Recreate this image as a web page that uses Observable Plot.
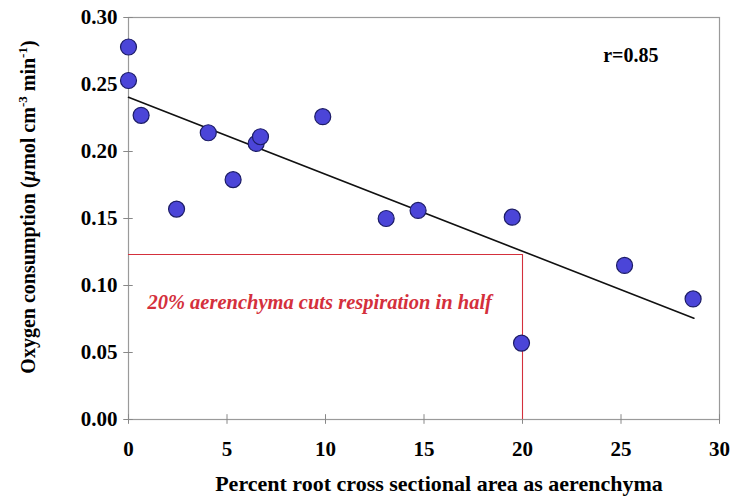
<!DOCTYPE html>
<html>
<head>
<meta charset="utf-8">
<script src="https://cdn.jsdelivr.net/npm/d3@7"></script>
<script src="https://cdn.jsdelivr.net/npm/@observablehq/plot@0.6"></script>
<style>
  html, body { margin: 0; padding: 0; background: #fff; }
  #chart { width: 735px; height: 498px; }
</style>
</head>
<body>
<div id="chart"></div>
<script>
// Aerenchyma (% of root cross section) vs. oxygen consumption
const aerenchyma = [0, 0, 0.64, 2.44, 4.05, 5.31, 6.48, 6.70, 9.86, 13.08, 14.70, 19.48, 19.95, 25.18, 28.66];
const oxygen     = [0.278, 0.253, 0.227, 0.157, 0.214, 0.179, 0.206, 0.211, 0.226, 0.150, 0.156, 0.151, 0.057, 0.115, 0.090];

// fitted trend line end points
const fitX = [0, 28.7];
const fitY = [0.2405, 0.0756];

// 20% aerenchyma reference
const refX = 20;
const refY = 0.1231;

const xTicks = [0, 5, 10, 15, 20, 25, 30];
const yTicks = [0, 0.05, 0.10, 0.15, 0.20, 0.25, 0.30];

const points = aerenchyma.map((x, i) => ({x, y: oxygen[i]}));
const fit = fitX.map((x, i) => ({x, y: fitY[i]}));

const red = "#d4303c";
const font = "'Liberation Serif', 'Times New Roman', serif";

const chart = Plot.plot({
  width: 735,
  height: 498,
  marginLeft: 128,
  marginRight: 16,
  marginTop: 17,
  marginBottom: 79,
  style: {fontFamily: font, background: "#fff", color: "#000"},
  x: {domain: [0, 30]},
  y: {domain: [0, 0.30]},
  marks: [
    Plot.frame({stroke: "#9a9a9a", strokeWidth: 1.2}),
    // crossing tick marks
    Plot.ruleX(xTicks, {y1: -0.0036, y2: 0.0036, stroke: "#888"}),
    Plot.ruleY(yTicks, {x1: -0.24, x2: 0.24, stroke: "#888"}),
    Plot.axisX({ticks: xTicks, tickSize: 0, tickPadding: 22, fontSize: 21, fontWeight: "bold", label: null}),
    Plot.axisY({ticks: yTicks, tickSize: 0, tickPadding: 11, fontSize: 21, fontWeight: "bold", tickFormat: d3.format(".2f"), label: null}),
    // reference lines at 20% aerenchyma
    Plot.ruleY([refY], {x1: 0, x2: refX, stroke: red, strokeWidth: 1.1}),
    Plot.ruleX([refX], {y1: 0, y2: refY, stroke: red, strokeWidth: 1.1}),
    Plot.text(["20% aerenchyma cuts respiration in half"], {
      x: 0.96, y: 0.0873, text: d => d, textAnchor: "start",
      fill: red, fontSize: 20.5, fontWeight: "bold", fontStyle: "italic"
    }),
    Plot.line(fit, {x: "x", y: "y", stroke: "#111", strokeWidth: 1.6}),
    Plot.dot(points, {x: "x", y: "y", r: 8, fill: "#4b45d8", stroke: "#1c1c66", strokeWidth: 1.2}),
    Plot.text(["r=0.85"], {x: 25.5, y: 0.2716, text: d => d, fontSize: 20, fontWeight: "bold", fill: "#000"})
  ]
});

const svg = d3.select(chart);

// x axis title
svg.append("text")
  .attr("x", 439).attr("y", 491)
  .attr("text-anchor", "middle")
  .attr("font-family", font).attr("font-size", 22).attr("font-weight", "bold")
  .attr("fill", "#000")
  .text("Percent root cross sectional area as aerenchyma");

// y axis title with superscripts
const yl = svg.append("text")
  .attr("transform", "translate(35,207) rotate(-90)")
  .attr("text-anchor", "middle")
  .attr("font-family", font).attr("font-size", 20).attr("font-weight", "bold")
  .attr("fill", "#000");
yl.append("tspan").text("Oxygen consumption (");
yl.append("tspan").attr("font-style", "italic").text("\u00b5");
yl.append("tspan").text("mol cm");
yl.append("tspan").attr("font-size", 13).attr("dy", -8).text("-3");
yl.append("tspan").attr("dy", 8).text(" min");
yl.append("tspan").attr("font-size", 13).attr("dy", -8).text("-1");
yl.append("tspan").attr("dy", 8).text(")");

document.getElementById("chart").appendChild(chart);
</script>
</body>
</html>
